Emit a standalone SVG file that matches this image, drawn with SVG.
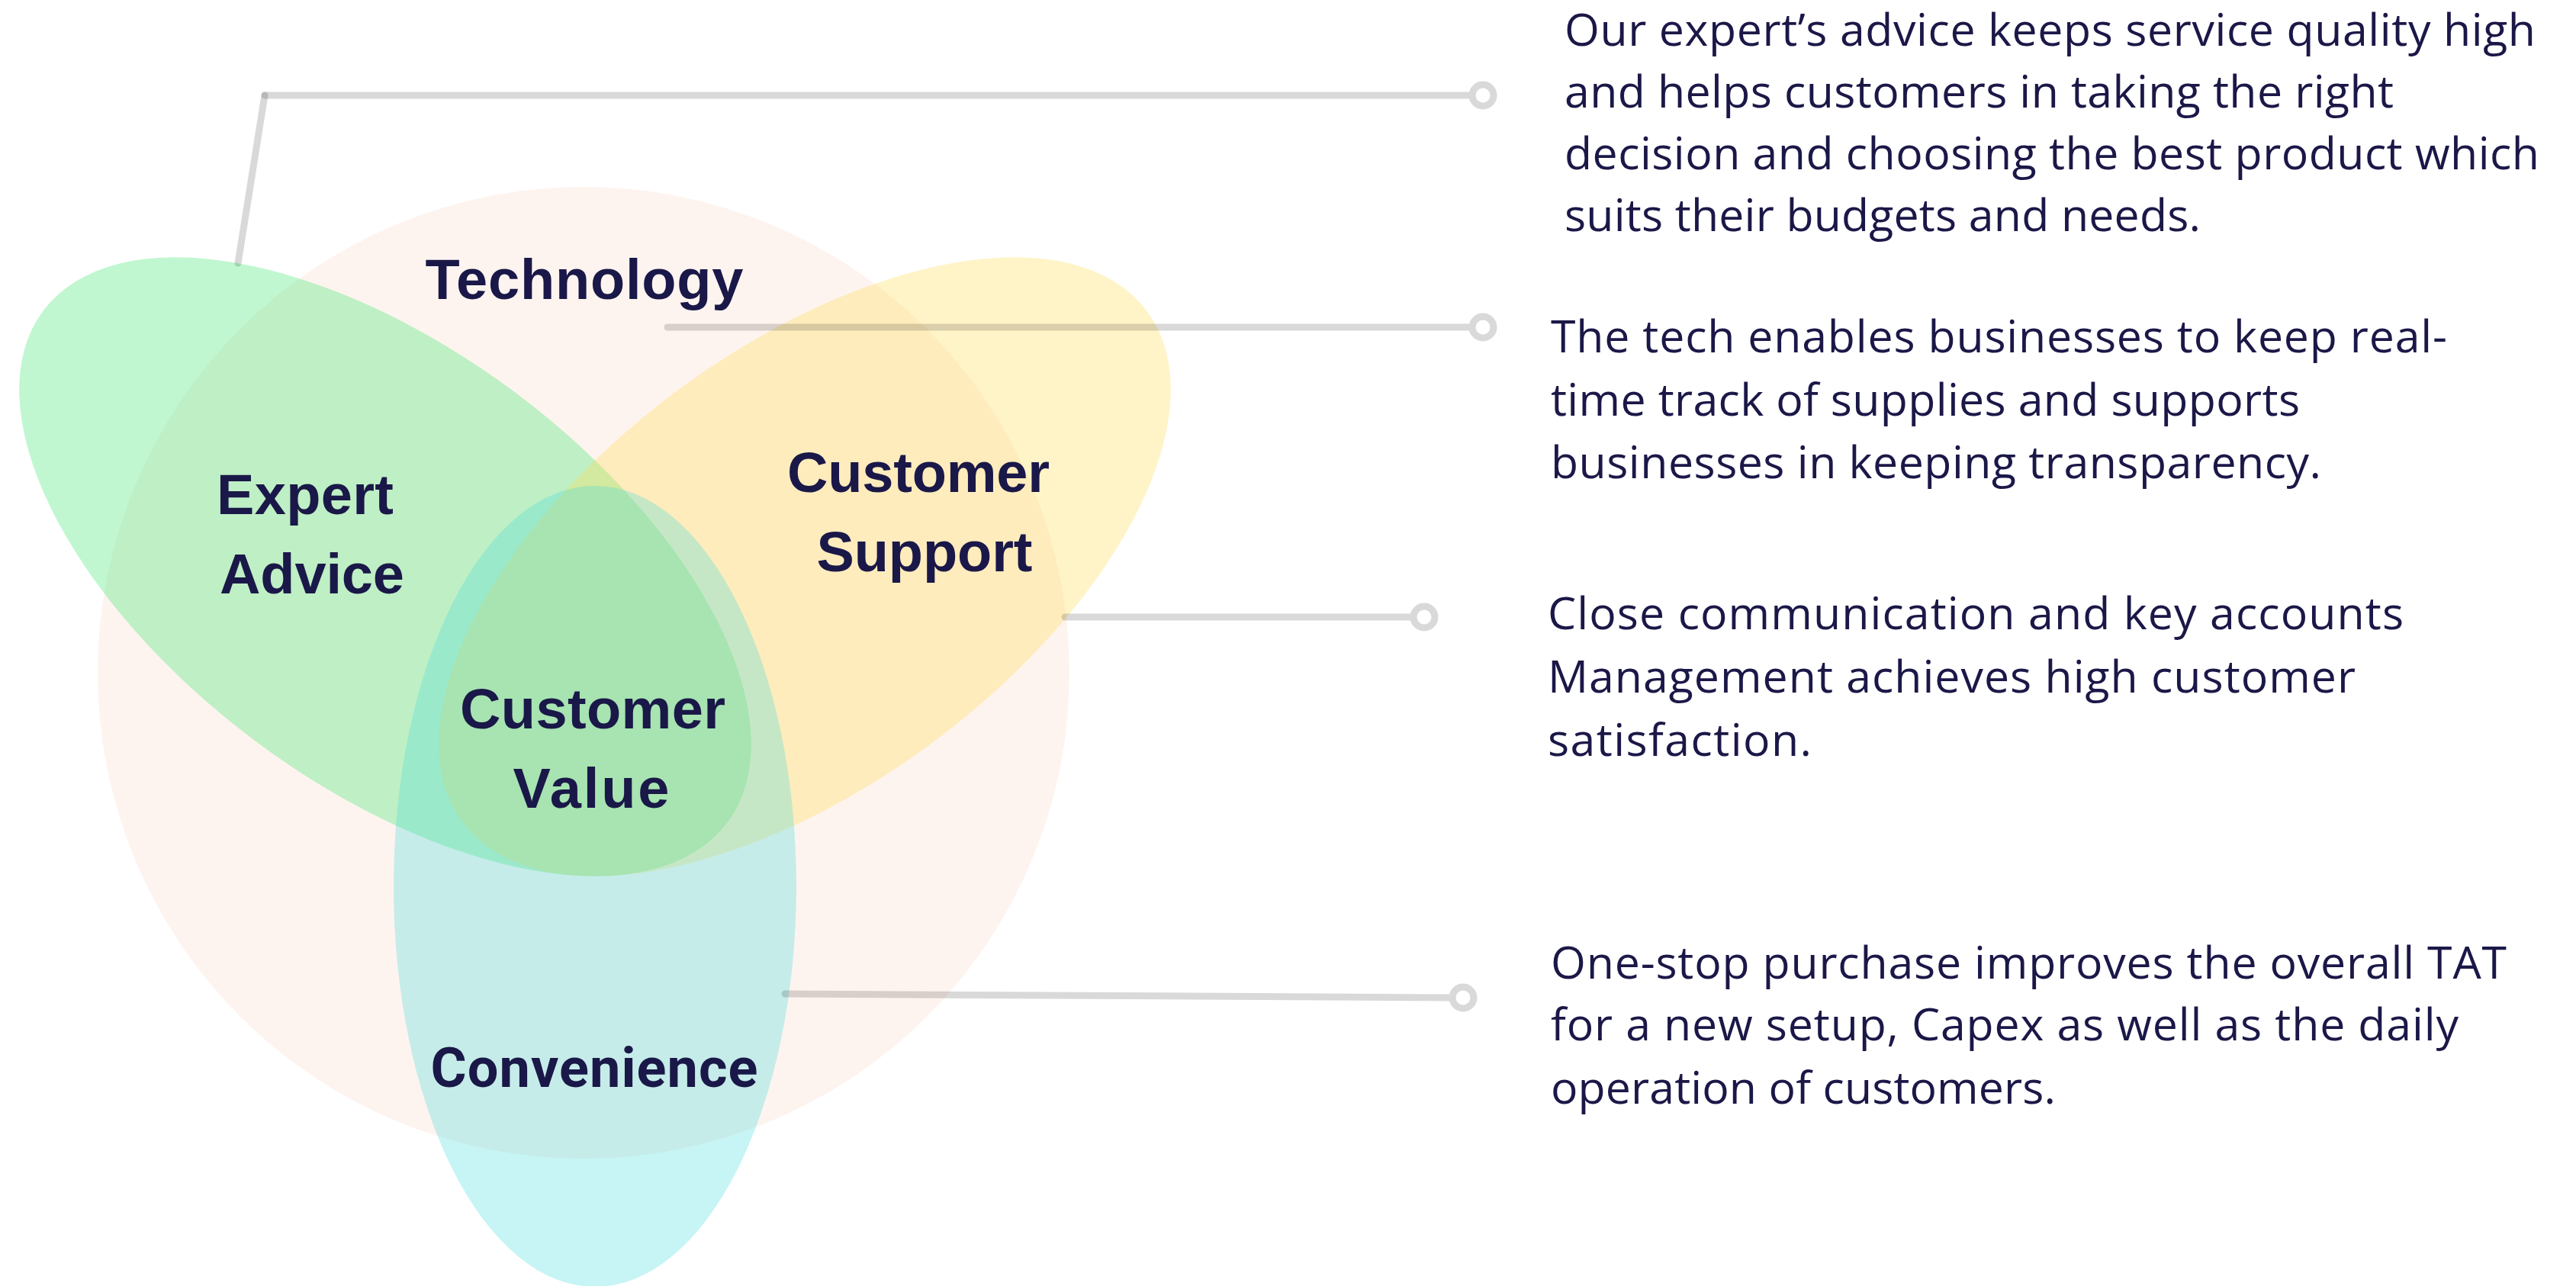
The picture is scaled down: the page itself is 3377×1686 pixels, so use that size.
<svg xmlns="http://www.w3.org/2000/svg" width="3377" height="1686" viewBox="0 0 3377 1686">
  <style>
    .lbl { font-family: "Liberation Sans", Arial, sans-serif; font-weight: 700; font-size: 74px; fill: #1a1848; text-anchor: middle; }
    .lbl2 { font-family: Roboto, "Liberation Sans", sans-serif; font-weight: 700; font-size: 72px; fill: #1a1848; text-anchor: middle; }
    .desc { font-family: "Open Sans", "Noto Sans", sans-serif; font-weight: 400; font-size: 59px; fill: #1b1848; }
    .ln { fill: none; stroke: #000; stroke-opacity: 0.15; stroke-width: 9; stroke-linecap: round; }
    .ring { fill: #fff; stroke: #d9d9d9; stroke-width: 9; }
  </style>
  <rect width="3377" height="1686" fill="#ffffff"/>

  <g id="technology">
    <circle cx="765" cy="882" r="637" fill="#fef4ef"/>
  </g>
  <g id="expert-advice">
    <ellipse cx="505" cy="743" rx="560" ry="285" transform="rotate(36.8 505 743)" fill="#2de462" fill-opacity="0.3"/>
  </g>
  <g id="customer-support">
    <ellipse cx="1055" cy="743" rx="560" ry="285" transform="rotate(-36.8 1055 743)" fill="#ffda48" fill-opacity="0.3"/>
  </g>
  <g id="convenience">
    <ellipse cx="780" cy="1162" rx="264" ry="525" fill="#44dada" fill-opacity="0.3"/>
  </g>

  <g id="connectors">
    <line class="ln" x1="347" y1="125" x2="312" y2="345"/>
    <line class="ln" x1="347" y1="125" x2="1925" y2="125"/>
    <line class="ln" x1="875" y1="429" x2="1925" y2="429"/>
    <line class="ln" x1="1396" y1="809" x2="1848" y2="809"/>
    <line class="ln" x1="1029" y1="1303" x2="1899" y2="1308"/>
    <circle class="ring" cx="1944" cy="125" r="14"/>
    <circle class="ring" cx="1944" cy="429" r="14"/>
    <circle class="ring" cx="1867" cy="809" r="14"/>
    <circle class="ring" cx="1918" cy="1308" r="14"/>
  </g>

  <g id="labels">
    <text class="lbl" x="766" y="392" textLength="417">Technology</text>
    <g id="label-expert-advice">
      <text class="lbl" x="400" y="674" textLength="232">Expert</text>
      <text class="lbl" x="409" y="778" textLength="242">Advice</text>
    </g>
    <g id="label-customer-support">
      <text class="lbl" x="1204" y="645" textLength="344">Customer</text>
      <text class="lbl" x="1212" y="749" textLength="283">Support</text>
    </g>
    <g id="customer-value">
      <text class="lbl" x="777" y="955" textLength="348">Customer</text>
      <text class="lbl" x="775" y="1059" textLength="205">Value</text>
    </g>
    <text class="lbl2" x="779" y="1425" textLength="429">Convenience</text>
  </g>

  <g id="desc-expert">
    <text class="desc" x="2051" y="60" textLength="1273">Our expert’s advice keeps service quality high</text>
    <text class="desc" x="2051" y="141" textLength="1087">and helps customers in taking the right</text>
    <text class="desc" x="2051" y="222" textLength="1278">decision and choosing the best product which</text>
    <text class="desc" x="2051" y="303" textLength="834">suits their budgets and needs.</text>
  </g>
  <g id="desc-technology">
    <text class="desc" x="2033" y="462" textLength="1175">The tech enables businesses to keep real-</text>
    <text class="desc" x="2033" y="545" textLength="982">time track of supplies and supports</text>
    <text class="desc" x="2033" y="627" textLength="1010">businesses in keeping transparency.</text>
  </g>
  <g id="desc-support">
    <text class="desc" x="2029" y="825" textLength="1122">Close communication and key accounts</text>
    <text class="desc" x="2029" y="908" textLength="1059">Management achieves high customer</text>
    <text class="desc" x="2029" y="991" textLength="346">satisfaction.</text>
  </g>
  <g id="desc-convenience">
    <text class="desc" x="2033" y="1283" textLength="1253">One-stop purchase improves the overall TAT</text>
    <text class="desc" x="2033" y="1364" textLength="1190">for a new setup, Capex as well as the daily</text>
    <text class="desc" x="2033" y="1447" textLength="662">operation of customers.</text>
  </g>
</svg>
